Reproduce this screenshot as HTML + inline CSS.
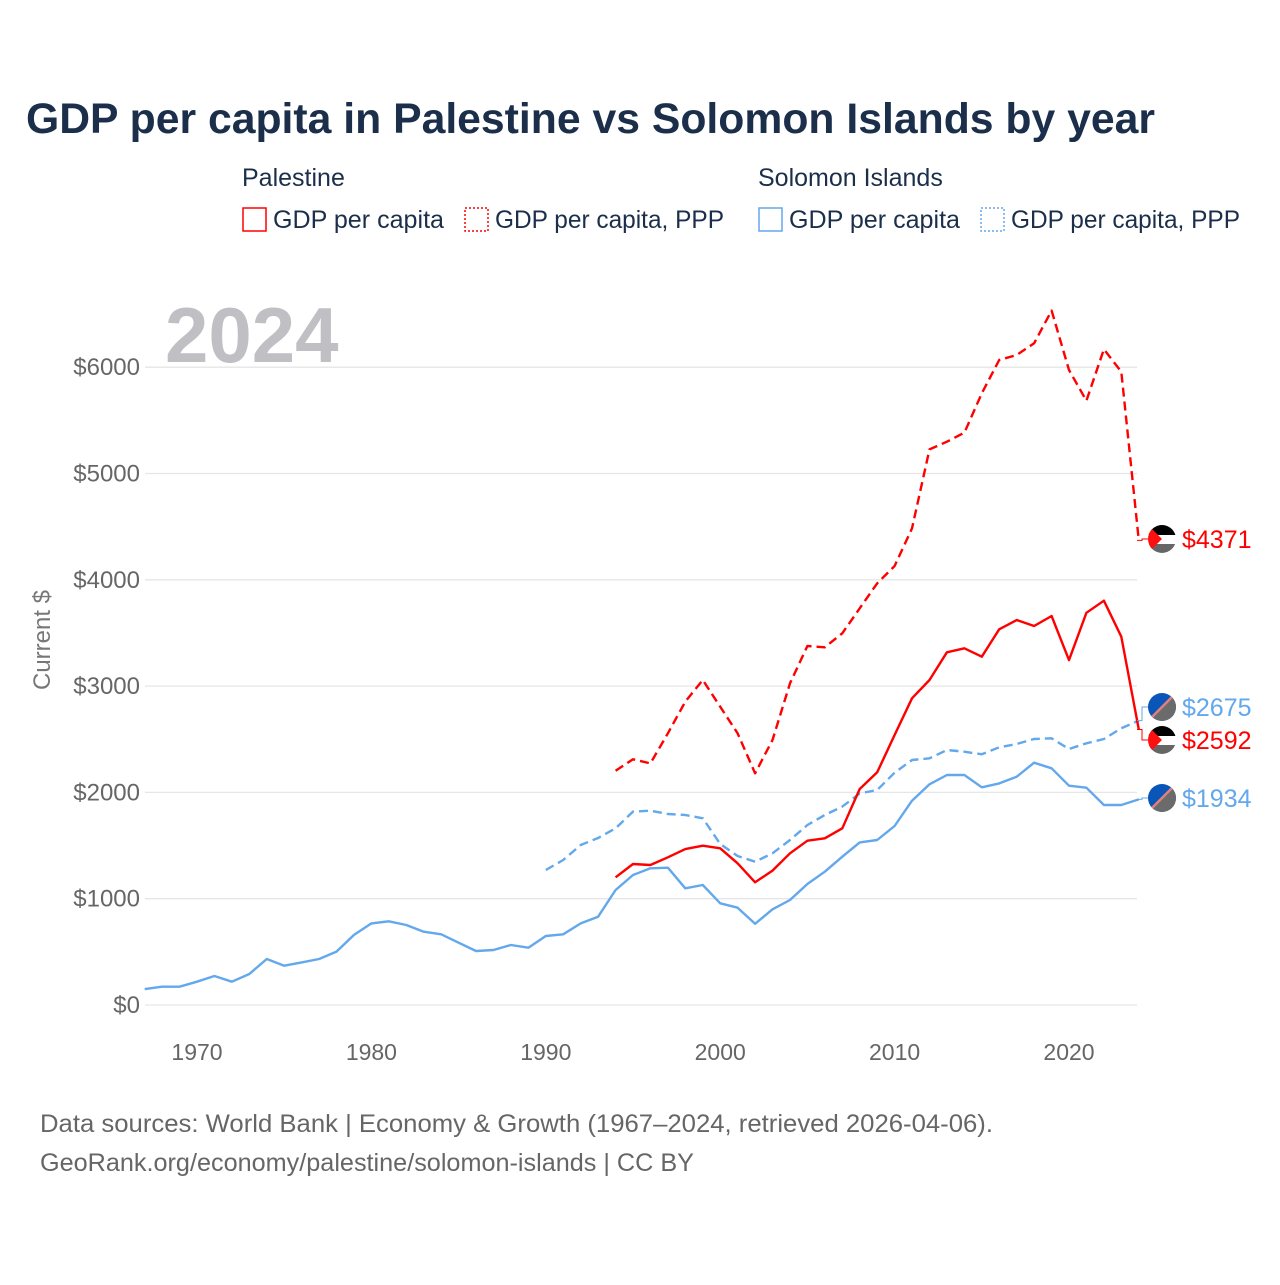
<!DOCTYPE html>
<html><head><meta charset="utf-8"><style>
body{margin:0;background:#fff;width:1280px;height:1280px;overflow:hidden;font-family:"Liberation Sans",sans-serif}
svg text{font-family:"Liberation Sans",sans-serif}
</style></head><body>
<svg id="chart" width="1280" height="1280" xmlns="http://www.w3.org/2000/svg">
<text x="26" y="133" font-size="42.5" font-weight="bold" fill="#1b2f4b" textLength="1129" lengthAdjust="spacingAndGlyphs">GDP per capita in Palestine vs Solomon Islands by year</text>
<g font-size="25" fill="#1b2f4b">
<text x="242" y="186" fill="#1b2f4b">Palestine</text>
<text x="758" y="186" fill="#1b2f4b">Solomon Islands</text>
<g><rect x="243" y="208" width="23" height="23" fill="none" stroke="#ff0000" stroke-width="1.5"/><text x="273" y="228" fill="#1b2f4b" textLength="171" lengthAdjust="spacingAndGlyphs">GDP per capita</text></g>
<g><rect x="465" y="208" width="23" height="23" fill="none" stroke="#ff0000" stroke-width="1.5" stroke-dasharray="2,2"/><text x="495" y="228" fill="#1b2f4b" textLength="229" lengthAdjust="spacingAndGlyphs">GDP per capita, PPP</text></g>
<g><rect x="759" y="208" width="23" height="23" fill="none" stroke="#63a8ec" stroke-width="1.5"/><text x="789" y="228" fill="#1b2f4b" textLength="171" lengthAdjust="spacingAndGlyphs">GDP per capita</text></g>
<g><rect x="981" y="208" width="23" height="23" fill="none" stroke="#63a8ec" stroke-width="1.5" stroke-dasharray="2,2"/><text x="1011" y="228" fill="#1b2f4b" textLength="229" lengthAdjust="spacingAndGlyphs">GDP per capita, PPP</text></g>
</g>
<text x="165" y="362" font-size="78" font-weight="bold" fill="#bfbfc4">2024</text>
<text transform="translate(50,640) rotate(-90)" text-anchor="middle" font-size="24" fill="#777">Current $</text>
<g id="grid"></g>
<g id="series"></g>
<g id="ends"></g>
<text x="40" y="1132" font-size="25" fill="#666" textLength="953" lengthAdjust="spacingAndGlyphs">Data sources: World Bank | Economy &amp; Growth (1967–2024, retrieved 2026-04-06).</text>
<text x="40" y="1171" font-size="25" fill="#666" textLength="654" lengthAdjust="spacingAndGlyphs">GeoRank.org/economy/palestine/solomon-islands | CC BY</text>
</svg>
<script>
const yTicks=[0,1000,2000,3000,4000,5000,6000];
const yTickLabels=["$0","$1000","$2000","$3000","$4000","$5000","$6000"];
const xTicks=[1970,1980,1990,2000,2010,2020];
const solGdpYears0=1967;
const solGdp=[150,172,172,219,273,219,292,433,370,401,433,502,659,768,787,753,690,665,586,508,517,564,539,649,665,768,831,1082,1223,1286,1292,1098,1129,957,915,764,900,988,1138,1254,1395,1530,1552,1684,1922,2076,2164,2164,2048,2085,2148,2279,2227,2063,2044,1881,1881,1934];
const solPppYear0=1990;
const solPpp=[1270,1364,1505,1571,1662,1819,1828,1797,1787,1756,1515,1402,1348,1427,1552,1693,1787,1866,1991,2023,2185,2305,2321,2399,2383,2358,2424,2455,2502,2509,2408,2462,2502,2603,2675];
const palYear0=1994;
const palGdp=[1201,1326,1317,1389,1467,1499,1474,1333,1154,1264,1427,1546,1568,1662,2032,2189,2540,2885,3057,3318,3356,3277,3534,3622,3565,3659,3245,3690,3803,3465,2592];
const palPpp=[2204,2311,2273,2556,2853,3057,2806,2556,2180,2493,3026,3377,3365,3497,3732,3967,4130,4484,5227,5299,5384,5754,6068,6115,6225,6532,5974,5685,6168,5958,4371];

const NS="http://www.w3.org/2000/svg";
const y=v=>1005-v*0.1063;
const x=yr=>197+(yr-1970)*17.44;
const grid=document.getElementById('grid');
function mk(tag,attrs,parent){const e=document.createElementNS(NS,tag);for(const k in attrs)e.setAttribute(k,attrs[k]);parent.appendChild(e);return e;}
yTicks.forEach((t,i)=>{
  const l=mk('line',{x1:145,x2:1137,y1:y(t),y2:y(t),stroke:'#e6e6e6','stroke-width':1.3},grid);
  
  
  const tx=mk('text',{x:140,y:y(t)+8,'text-anchor':'end','font-size':24,fill:'#666'},grid);
  tx.textContent=yTickLabels[i];
  
  
});
xTicks.forEach(t=>{
  const tx=mk('text',{x:x(t),y:1060,'text-anchor':'middle','font-size':23,fill:'#666'},grid);
  tx.textContent=t;
  
  
});
const ser=document.getElementById('series');
function line(vals,y0,color,dash,name){
  const pts=vals.map((v,i)=>x(y0+i).toFixed(1)+','+y(v).toFixed(1));
  const p=mk('polyline',{points:pts.join(' '),fill:'none',stroke:color,'stroke-width':2.4,'stroke-linejoin':'round'},ser);
  if(dash)p.setAttribute('stroke-dasharray',dash);
  
  
}
line(solGdp,solGdpYears0,'#63a8ec',null,'line-solomon-gdp');
line(solPpp,solPppYear0,'#63a8ec','9,5','line-solomon-ppp');
line(palGdp,palYear0,'#ff0000',null,'line-palestine-gdp');
line(palPpp,palYear0,'#ff0000','9,5','line-palestine-ppp');

const ends=document.getElementById('ends');
function endLabel(v,ly,color,flag,name){
  const g=mk('g',{},ends);
  
  
  mk('polyline',{points:`1137,${y(v)} 1142,${y(v)} 1142,${ly} 1150,${ly}`,fill:'none',stroke:color,'stroke-width':1},g);
  const cx=1162,cy=ly,r=14;
  const clipId='c'+name;
  const cp=mk('clipPath',{id:clipId},g);
  mk('circle',{cx,cy,r},cp);
  const fg=mk('g',{'clip-path':`url(#${clipId})`},g);
  if(flag==='pal'){
    mk('rect',{x:cx-r,y:cy-r,width:2*r,height:2*r,fill:'#fff'},fg);
    mk('rect',{x:cx-r,y:cy-r,width:2*r,height:r-4,fill:'#000'},fg);
    mk('rect',{x:cx-r,y:cy+5,width:2*r,height:r,fill:'#666'},fg);
    mk('path',{d:`M${cx-r},${cy-r} L${cx},${cy} L${cx-r},${cy+r} Z`,fill:'#ff1010'},fg);
  }else{
    mk('rect',{x:cx-r,y:cy-r,width:2*r,height:2*r,fill:'#0a56b8'},fg);
    mk('path',{d:`M${cx+r},${cy-r} L${cx+r},${cy+r} L${cx-r},${cy+r} Z`,fill:'#6b6b6b'},fg);
    mk('line',{x1:cx+r,y1:cy-r,x2:cx-r,y2:cy+r,stroke:'#e08080','stroke-width':2.5},fg);
  }
  const t=mk('text',{x:1182,y:ly+9,'font-size':25,fill:color},g);
  t.textContent='$'+v;
}
endLabel(palPpp[palPpp.length-1],539,'#ff0000','pal','end-label-palestine-ppp');
endLabel(solPpp[solPpp.length-1],707,'#63a8ec','sol','end-label-solomon-ppp');
endLabel(palGdp[palGdp.length-1],740,'#ff0000','pal','end-label-palestine-gdp');
endLabel(solGdp[solGdp.length-1],798,'#63a8ec','sol','end-label-solomon-gdp');
</script>
</body></html>
